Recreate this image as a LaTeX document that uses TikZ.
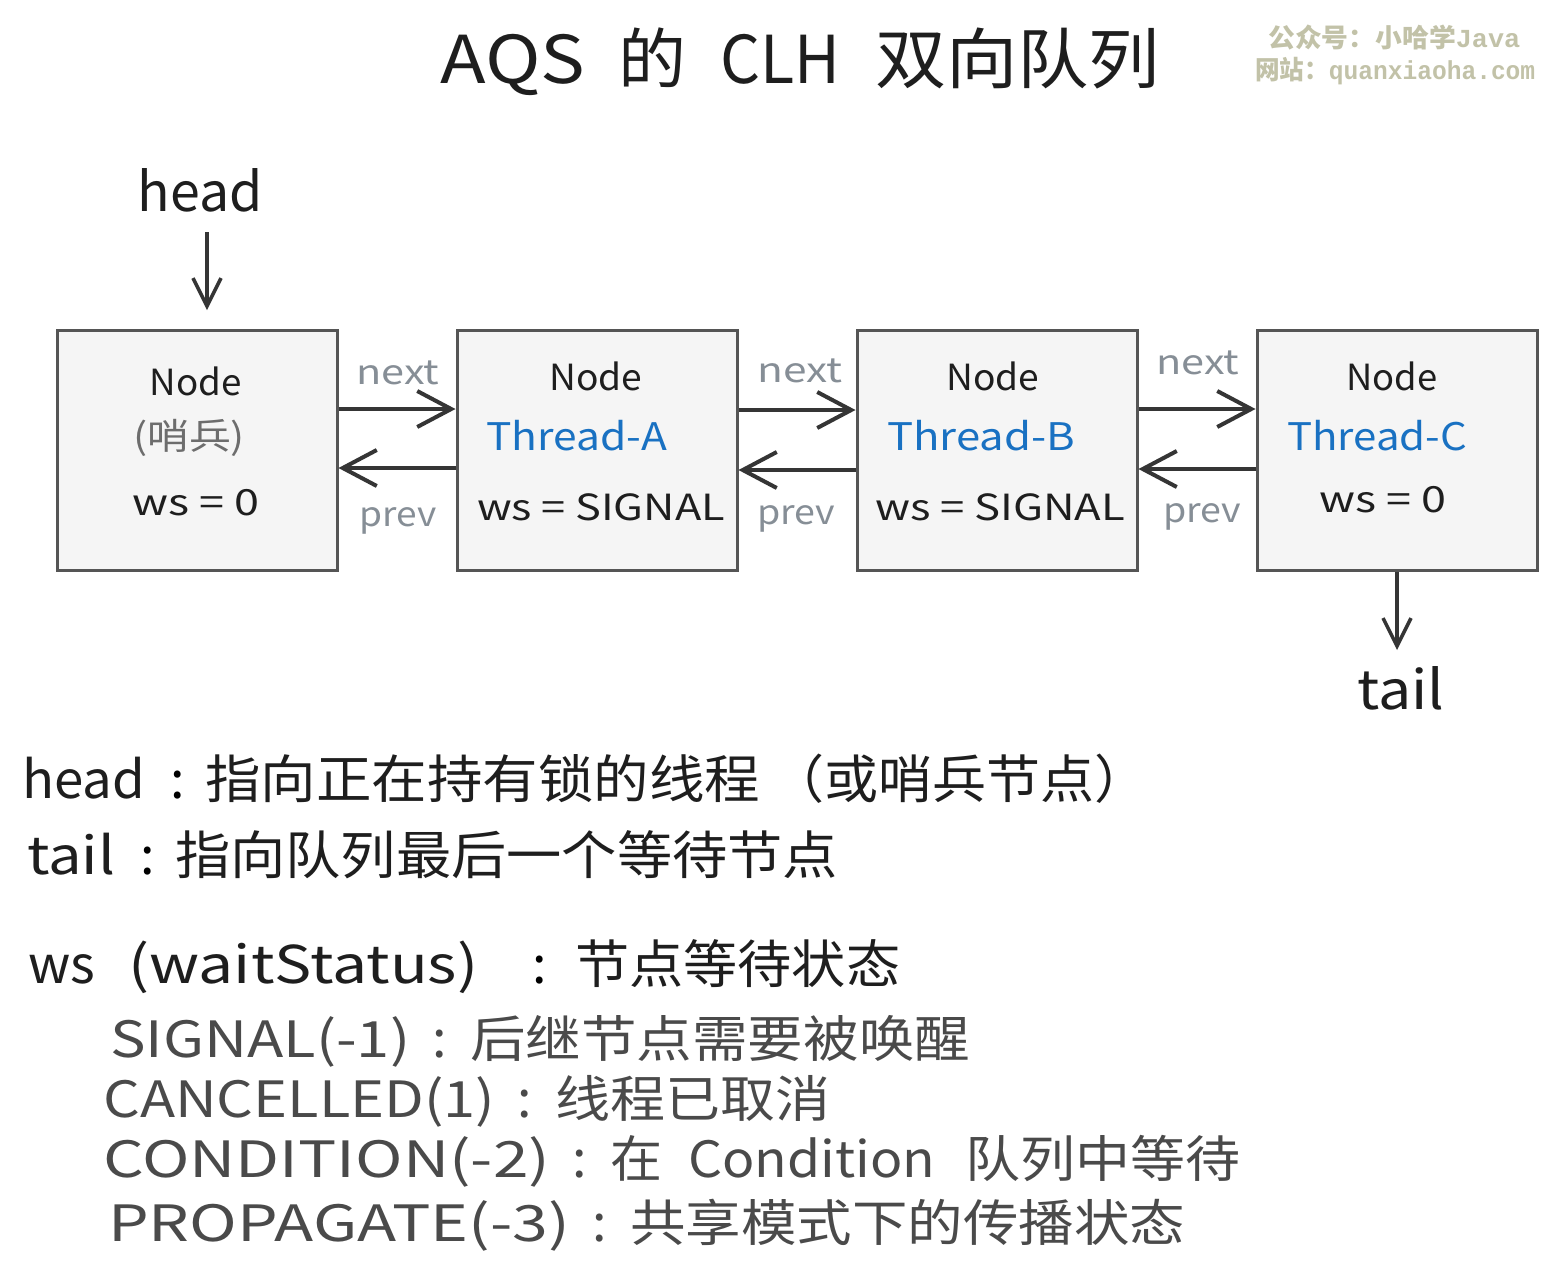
\documentclass[tikz,border=0pt]{standalone}
\usepackage{fontspec}
\usepackage{graphicx}
\setmainfont{Noto Sans CJK SC}
\newfontfamily\wmmono{Liberation Mono}
\usetikzlibrary{arrows.meta}
\definecolor{boxline}{HTML}{555555}
\definecolor{boxfill}{HTML}{F5F5F5}
\definecolor{ink}{HTML}{1E1E1E}
\definecolor{thr}{HTML}{1971C2}
\definecolor{lbl}{HTML}{868E96}
\definecolor{legray}{HTML}{4A4A4A}
\definecolor{wm}{HTML}{C2C2A8}
\newcommand{\fs}[1]{\fontsize{#1}{#1}\selectfont}
\newcommand{\fitw}[2]{\resizebox{#1pt}{\height}{#2}}
\tikzset{
  qbox/.style={draw=boxline, fill=boxfill, line width=3pt, minimum width=280pt, minimum height=240pt, inner sep=0pt},
  ptr/.style={draw=ink!90, line width=4pt, -{Straight Barb[length=34pt,width=36pt,line width=4pt]}},
  vptr/.style={draw=ink!90, line width=3.5pt, -{Straight Barb[length=28pt,width=28pt,line width=3.5pt]}},
  tx/.style={inner sep=0pt, text height=7.5pt, text depth=2pt},
  lab/.style={tx, text=lbl, font=\fs{34}, yshift=-9.5pt},
  ntxt/.style={tx, text=ink, font=\fs{36}, yshift=-10.2pt},
  ttxt/.style={tx, text=thr, font=\fs{38}, yshift=-10.9pt},
  big/.style={tx, text=ink, font=\fs{54}, yshift=-16.7pt},
  leg/.style={tx, anchor=west, text=ink, font=\fs{52}, yshift=-16pt},
  legs/.style={tx, anchor=west, text=legray, font=\fs{50}, yshift=-15.3pt},
  colon/.style={tx, font=\fs{52}, yshift=-16pt},
  ttl/.style={tx, anchor=west, text=ink, font=\fs{66}, yshift=-21pt},
  wmk/.style={tx, anchor=west, text=wm, font=\bfseries\fs{26}, yshift=-6.6pt},
}
\begin{document}
\begin{tikzpicture}[x=1pt,y=-1pt]
\useasboundingbox (0,0) rectangle (1557,1283);
\fill[white] (0,0) rectangle (1557,1283);
% title
\node[ttl] (t1) at (440,60) {\fitw{145}{AQS}};
\node[ttl] (t2) at (618,60) {\fitw{68}{的}};
\node[ttl] (t3) at (720,60) {\fitw{120}{CLH}};
\node[ttl] (t4) at (875,60) {\fitw{285}{双向队列}};
% watermark
\node[wmk] (wm1) at (1268,38) {\fitw{252}{公众号：小哈学{\wmmono Java}}};
\node[wmk] (wm2) at (1255,70) {\fitw{280}{网站：{\wmmono quanxiaoha.com}}};
% boxes
\node[qbox] (n1) at (197,450) {};
\node[qbox] (n2) at (597,450) {};
\node[qbox] (n3) at (997,450) {};
\node[qbox] (n4) at (1397,450) {};
% box texts
\node[ntxt] (n1a) at (196,383) {\fitw{92}{Node}};
\node[ntxt, text=ink!65] (n1b) at (189,437) {\fitw{112}{(哨兵)}};
\node[ntxt] (n1c) at (196,503) {\fitw{127}{ws = 0}};
\node[ntxt] (n2a) at (596,378) {\fitw{93}{Node}};
\node[ttxt] (n2b) at (577,437) {\fitw{181}{Thread-A}};
\node[ntxt] (n2c) at (601,508) {\fitw{248}{ws = SIGNAL}};
\node[ntxt] (n3a) at (993,378) {\fitw{93}{Node}};
\node[ttxt] (n3b) at (981,437) {\fitw{188}{Thread-B}};
\node[ntxt] (n3c) at (1000,508) {\fitw{250}{ws = SIGNAL}};
\node[ntxt] (n4a) at (1392,378) {\fitw{91}{Node}};
\node[ttxt] (n4b) at (1377,437) {\fitw{180}{Thread-C}};
\node[ntxt] (n4c) at (1383,500) {\fitw{127}{ws = 0}};
% next / prev arrows
\draw[ptr] (n1.east |- 0,409) -- (n2.west |- 0,409);
\draw[ptr] (n2.west |- 0,468) -- (n1.east |- 0,468);
\draw[ptr] (n2.east |- 0,410) -- (n3.west |- 0,410);
\draw[ptr] (n3.west |- 0,470) -- (n2.east |- 0,470);
\draw[ptr] (n3.east |- 0,409) -- (n4.west |- 0,409);
\draw[ptr] (n4.west |- 0,469) -- (n3.east |- 0,469);
\node[lab] (l1) at (398,372) {\fitw{83}{next}};
\node[lab] (l2) at (398,514) {\fitw{77}{prev}};
\node[lab] (l3) at (800,370) {\fitw{85}{next}};
\node[lab] (l4) at (796,512) {\fitw{78}{prev}};
\node[lab] (l5) at (1198,362) {\fitw{83}{next}};
\node[lab] (l6) at (1202,510) {\fitw{78}{prev}};
% head / tail
\node[big] (head) at (200,192) {\fitw{125}{head}};
\coordinate (htip) at (207,310);
\draw[vptr] (207,232) -- (htip);
\node[big] (tail) at (1401,690) {\fitw{87}{tail}};
\coordinate (tstart) at (1397,572);
\draw[vptr] (tstart) -- (1397,650);
% legend line 1
\node[leg] (g1a) at (22,780) {\fitw{123}{head}};
\node[colon] (g1b) at (178,780) {:};
\node[leg] (g1c) at (205,780) {\fitw{555}{指向正在持有锁的线程}};
\node[leg] (g1d) at (770,780) {\fitw{378}{（或哨兵节点）}};
% legend line 2
\node[leg] (g2a) at (27,856) {\fitw{88}{tail}};
\node[colon] (g2b) at (148,856) {:};
\node[leg] (g2c) at (175,856) {\fitw{663}{指向队列最后一个等待节点}};
% legend line 3
\node[leg] (g3a) at (28,965) {\fitw{67}{ws}};
\node[leg] (g3b) at (128,965) {\fitw{350}{(waitStatus)}};
\node[colon] (g3c) at (540,965) {:};
\node[leg] (g3d) at (575,965) {\fitw{325}{节点等待状态}};
% status lines
\node[legs] (g4a) at (110,1039) {\fitw{300}{SIGNAL(-1)}};
\node[colon, text=legray] (g4b) at (440,1039) {:};
\node[legs] (g4c) at (470,1039) {\fitw{500}{后继节点需要被唤醒}};
\node[legs] (g5a) at (103,1099) {\fitw{392}{CANCELLED(1)}};
\node[colon, text=legray] (g5b) at (525,1099) {:};
\node[legs] (g5c) at (555,1099) {\fitw{275}{线程已取消}};
\node[legs] (g6a) at (103,1159) {\fitw{447}{CONDITION(-2)}};
\node[colon, text=legray] (g6b) at (580,1159) {:};
\node[legs] (g6c) at (610,1159) {\fitw{52}{在}};
\node[legs] (g6d) at (688,1159) {\fitw{247}{Condition}};
\node[legs] (g6e) at (965,1159) {\fitw{275}{队列中等待}};
\node[legs] (g7a) at (108,1223) {\fitw{462}{PROPAGATE(-3)}};
\node[colon, text=legray] (g7b) at (600,1223) {:};
\node[legs] (g7c) at (630,1223) {\fitw{555}{共享模式下的传播状态}};
\end{tikzpicture}
\end{document}
